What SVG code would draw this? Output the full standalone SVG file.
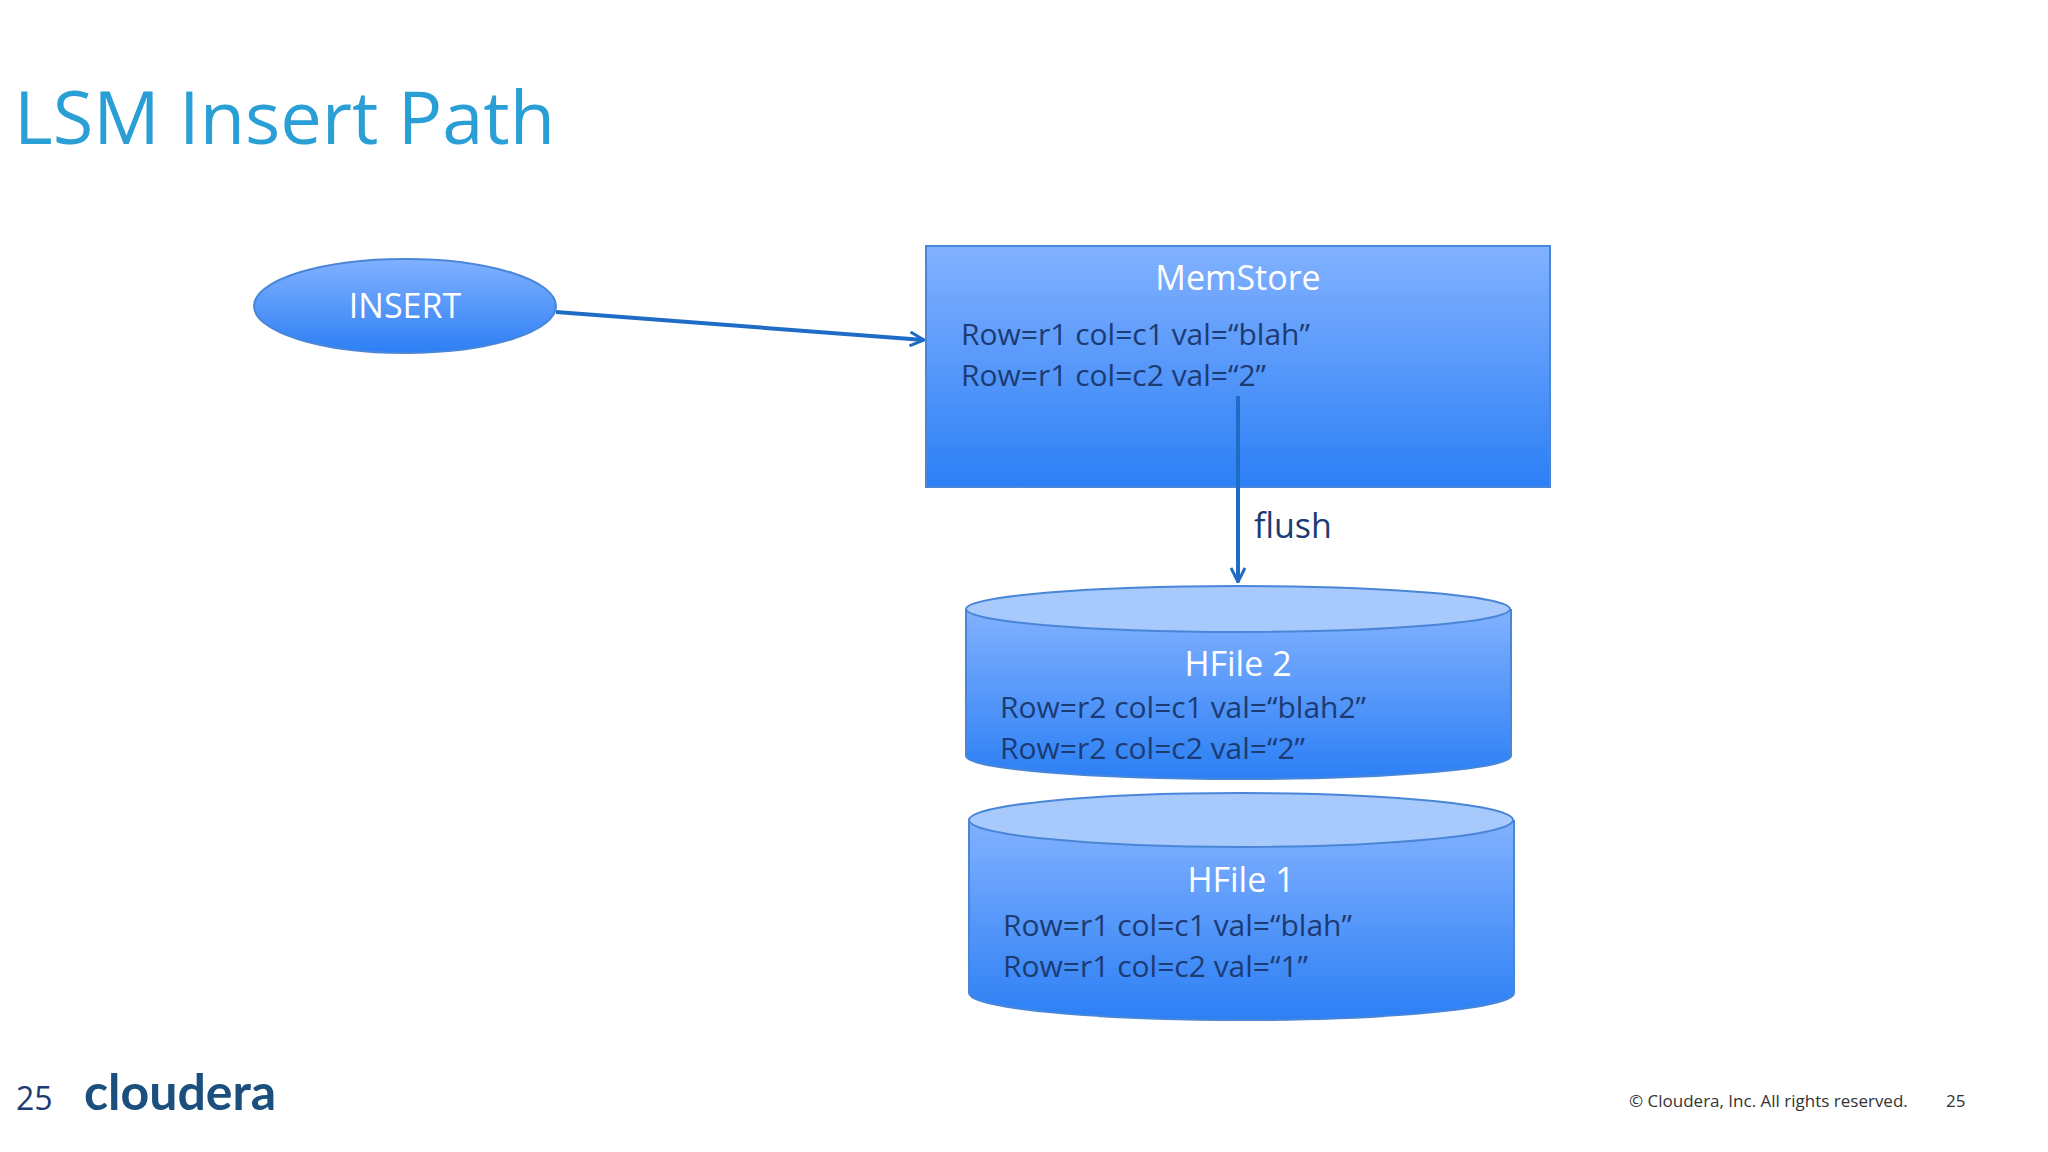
<svg xmlns="http://www.w3.org/2000/svg" width="2048" height="1152" viewBox="0 0 2048 1152">
<style>
text{font-family:"Open Sans","Noto Sans","Liberation Sans",sans-serif}
.hd{fill:#fff;font-size:34px;text-anchor:middle}
.row{fill:#1d3b73;font-size:30px}
.sh{stroke:#4a86d8;stroke-width:2}
</style>
<defs>
<linearGradient id="g" x1="0" y1="0" x2="0" y2="1"><stop offset="0" stop-color="#82b1ff"/><stop offset="1" stop-color="#2b7ff5"/></linearGradient>
<marker id="a" viewBox="0 0 16 16" refX="15" refY="8" markerWidth="16" markerHeight="16" markerUnits="userSpaceOnUse" orient="auto"><path d="M1,1 L15,8 L1,15" fill="none" stroke="#1f6cc6" stroke-width="3"/></marker>
</defs>
<rect width="2048" height="1152" fill="#fff"/>
<text x="14" y="144" font-size="74" fill="#2a9fd6">LSM Insert Path</text>
<g id="insert"><ellipse cx="405" cy="306" rx="151" ry="47" fill="url(#g)" class="sh"/><text x="405" y="318" class="hd">INSERT</text></g>
<g id="memstore"><rect x="926" y="246" width="624" height="241" fill="url(#g)" class="sh"/>
<text x="1238" y="290" class="hd">MemStore</text>
<text x="961" y="345" class="row">Row=r1 col=c1 val=“blah”</text>
<text x="961" y="386" class="row">Row=r1 col=c2 val=“2”</text></g>
<g id="hfile2"><path d="M966,609 V756 A272,23 0 0 0 1511,756 V609" fill="url(#g)" class="sh"/>
<ellipse cx="1238" cy="609" rx="272" ry="23" fill="#a8c9fb" class="sh"/>
<text x="1238" y="676" class="hd">HFile 2</text>
<text x="1000" y="718" class="row">Row=r2 col=c1 val=“blah2”</text>
<text x="1000" y="759" class="row">Row=r2 col=c2 val=“2”</text></g>
<g id="hfile1"><path d="M969,820 V993 A272,27 0 0 0 1514,993 V820" fill="url(#g)" class="sh"/>
<ellipse cx="1241" cy="820" rx="272" ry="27" fill="#a8c9fb" class="sh"/>
<text x="1241" y="892" class="hd">HFile 1</text>
<text x="1003" y="936" class="row">Row=r1 col=c1 val=“blah”</text>
<text x="1003" y="977" class="row">Row=r1 col=c2 val=“1”</text></g>
<g id="connectors" stroke="#1f6cc6" stroke-width="4" fill="none">
<line x1="556" y1="312" x2="924" y2="340" marker-end="url(#a)"/>
<line x1="1238" y1="396" x2="1238" y2="582" marker-end="url(#a)"/>
</g>
<text x="1254" y="538" font-size="34" fill="#1d3b73">flush</text>
<text x="16" y="1110" font-size="32" fill="#1d3b73">25</text>
<text x="84" y="1110" font-size="50" font-weight="bold" fill="#1a4f7e" style="font-family:'Lato','Liberation Sans',sans-serif">cloudera</text>
<text x="1629" y="1107" font-size="17" fill="#333">© Cloudera, Inc. All rights reserved.</text>
<text x="1946" y="1107" font-size="17" fill="#333">25</text>
</svg>
